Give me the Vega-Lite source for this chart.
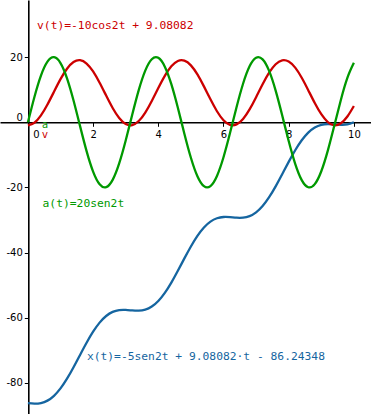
{
  "$schema": "https://vega.github.io/schema/vega-lite/v6.json",
  "width": 371,
  "height": 414,
  "autosize": {"type": "none"},
  "padding": 0,
  "background": "white",
  "config": {"view": {"stroke": null}},
  "datasets": {
    "curves": [
      {"t": 0.0, "v": -0.919, "a": 0.0, "x": -86.243},
      {"t": 0.2, "v": -0.130, "a": 7.79, "x": -86.374},
      {"t": 0.4, "v": 2.114, "a": 14.35, "x": -86.198},
      {"t": 0.6, "v": 5.457, "a": 18.64, "x": -85.455},
      {"t": 0.8, "v": 9.372, "a": 19.99, "x": -83.976},
      {"t": 1.0, "v": 13.242, "a": 18.19, "x": -81.709},
      {"t": 1.2, "v": 16.455, "a": 13.51, "x": -78.724},
      {"t": 1.4, "v": 18.503, "a": 6.70, "x": -75.205},
      {"t": 1.6, "v": 19.064, "a": -1.17, "x": -71.422},
      {"t": 1.8, "v": 18.049, "a": -8.85, "x": -67.685},
      {"t": 2.0, "v": 15.617, "a": -15.14, "x": -64.297},
      {"t": 2.2, "v": 12.154, "a": -19.03, "x": -61.507},
      {"t": 2.4, "v": 8.208, "a": -19.92, "x": -59.468},
      {"t": 2.6, "v": 4.393, "a": -17.67, "x": -58.215},
      {"t": 2.8, "v": 1.325, "a": -12.63, "x": -57.660},
      {"t": 3.0, "v": -0.521, "a": -5.59, "x": -57.604},
      {"t": 3.2, "v": -0.851, "a": 2.33, "x": -57.767},
      {"t": 3.4, "v": 0.387, "a": 9.88, "x": -57.839},
      {"t": 3.6, "v": 2.997, "a": 15.87, "x": -57.521},
      {"t": 3.8, "v": 6.568, "a": 19.36, "x": -56.576},
      {"t": 4.0, "v": 10.536, "a": 19.79, "x": -54.867},
      {"t": 4.2, "v": 14.274, "a": 17.09, "x": -52.377},
      {"t": 4.4, "v": 17.189, "a": 11.70, "x": -49.212},
      {"t": 4.6, "v": 18.829, "a": 4.46, "x": -45.586},
      {"t": 4.8, "v": 18.928, "a": -3.49, "x": -41.783},
      {"t": 5.0, "v": 17.472, "a": -10.88, "x": -38.119},
      {"t": 5.2, "v": 14.691, "a": -16.56, "x": -34.884},
      {"t": 5.4, "v": 11.024, "a": -19.62, "x": -32.302},
      {"t": 5.6, "v": 7.051, "a": -19.58, "x": -30.494},
      {"t": 5.8, "v": 3.398, "a": -16.46, "x": -29.460},
      {"t": 6.0, "v": 0.642, "a": -10.73, "x": -29.075},
      {"t": 6.2, "v": -0.781, "a": -3.31, "x": -29.114},
      {"t": 6.4, "v": -0.647, "a": 4.63, "x": -29.284},
      {"t": 6.6, "v": 1.022, "a": 11.84, "x": -29.270},
      {"t": 6.8, "v": 3.964, "a": 17.18, "x": -28.789},
      {"t": 7.0, "v": 7.711, "a": 19.81, "x": -27.630},
      {"t": 7.2, "v": 11.679, "a": 19.31, "x": -25.690},
      {"t": 7.4, "v": 15.233, "a": 15.77, "x": -22.987},
      {"t": 7.6, "v": 17.818, "a": 9.73, "x": -19.661},
      {"t": 7.8, "v": 19.023, "a": 2.16, "x": -15.952},
      {"t": 8.0, "v": 18.658, "a": -5.76, "x": -12.156},
      {"t": 8.2, "v": 16.781, "a": -12.76, "x": -8.589},
      {"t": 8.4, "v": 13.688, "a": -17.75, "x": -5.526},
      {"t": 8.6, "v": 9.868, "a": -19.94, "x": -3.163},
      {"t": 8.8, "v": 5.921, "a": -18.98, "x": -1.588},
      {"t": 9.0, "v": 2.478, "a": -15.02, "x": -0.761},
      {"t": 9.2, "v": 0.075, "a": -8.69, "x": -0.526},
      {"t": 9.4, "v": -0.907, "a": -0.99, "x": -0.635},
      {"t": 9.6, "v": -0.311, "a": 6.87, "x": -0.784},
      {"t": 9.8, "v": 1.767, "a": 13.64, "x": -0.661},
      {"t": 10.0, "v": 4.999, "a": 18.26, "x": 0.000}
    ],
    "labels": [
      {"t": 0.28, "y": 29.6, "text": "v(t)=-10cos2t + 9.08082", "series": "v"},
      {"t": 0.45, "y": -25.2, "text": "a(t)=20sen2t", "series": "a"},
      {"t": 1.81, "y": -72.2, "text": "x(t)=-5sen2t + 9.08082·t - 86.24348", "series": "x"}
    ],
    "marks": [
      {"t": 0.43, "y": -0.9, "text": "a", "series": "a"},
      {"t": 0.43, "y": -4.0, "text": "v", "series": "v"}
    ]
  },
  "layer": [
    {
      "data": {"name": "curves"},
      "mark": {"type": "line", "interpolate": "natural", "strokeWidth": 2.3, "color": "#1565a0", "clip": true},
      "encoding": {
        "x": {
          "field": "t", "type": "quantitative",
          "scale": {"domain": [-0.856, 10.525], "nice": false, "zero": false},
          "axis": {
            "orient": "bottom", "offset": -291.7, "title": null, "grid": false,
            "values": [0, 2, 4, 6, 8, 10],
            "labelExpr": "'' + datum.value",
            "labelFont": "DejaVu Sans", "labelFontSize": 10, "labelColor": "black",
            "labelOffset": {"condition": {"test": "datum.value == 0", "value": 8}, "value": 0},
            "tickSize": 4, "tickColor": "black", "tickWidth": 1,
            "labelPadding": 3,
            "domainColor": "black", "domainWidth": 1.6
          }
        },
        "y": {
          "field": "x", "type": "quantitative",
          "scale": {"domain": [-89.56, 37.55], "nice": false, "zero": false},
          "axis": {
            "orient": "left", "offset": -28.3, "title": null, "grid": false,
            "values": [-80, -60, -40, -20, 0, 20],
            "labelExpr": "'' + datum.value",
            "labelFont": "DejaVu Sans", "labelFontSize": 10, "labelColor": "black",
            "labelOffset": {"condition": {"test": "datum.value == 0", "value": -5}, "value": 0},
            "tickSize": 4, "tickColor": "black", "tickWidth": 1,
            "labelPadding": 2,
            "domainColor": "black", "domainWidth": 1.6
          }
        }
      }
    },
    {
      "data": {"name": "curves"},
      "mark": {"type": "line", "interpolate": "natural", "strokeWidth": 2.3, "color": "#cc0000", "clip": true},
      "encoding": {
        "x": {"field": "t", "type": "quantitative"},
        "y": {"field": "v", "type": "quantitative"}
      }
    },
    {
      "data": {"name": "curves"},
      "mark": {"type": "line", "interpolate": "natural", "strokeWidth": 2.3, "color": "#009900", "clip": true},
      "encoding": {
        "x": {"field": "t", "type": "quantitative"},
        "y": {"field": "a", "type": "quantitative"}
      }
    },
    {
      "data": {"name": "labels"},
      "mark": {"type": "text", "font": "DejaVu Sans Mono", "fontSize": 11.3, "align": "left", "baseline": "middle"},
      "encoding": {
        "x": {"field": "t", "type": "quantitative"},
        "y": {"field": "y", "type": "quantitative"},
        "text": {"field": "text"},
        "color": {"field": "series", "type": "nominal", "legend": null,
          "scale": {"domain": ["v", "a", "x"], "range": ["#cc0000", "#009900", "#1565a0"]}}
      }
    },
    {
      "data": {"name": "marks"},
      "mark": {"type": "text", "font": "DejaVu Sans", "fontSize": 10, "align": "left", "baseline": "middle"},
      "encoding": {
        "x": {"field": "t", "type": "quantitative"},
        "y": {"field": "y", "type": "quantitative"},
        "text": {"field": "text"},
        "color": {"field": "series", "type": "nominal", "legend": null,
          "scale": {"domain": ["v", "a", "x"], "range": ["#cc0000", "#009900", "#1565a0"]}}
      }
    }
  ]
}
